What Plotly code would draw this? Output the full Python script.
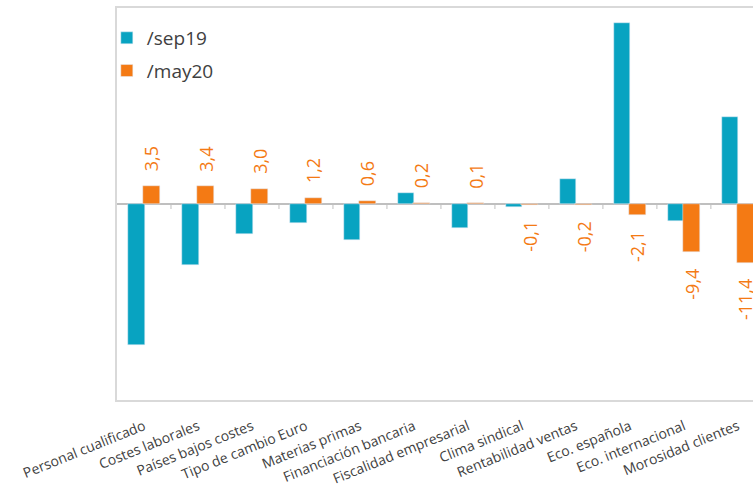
import plotly.graph_objects as go

# Factores y valores por encuesta
categorias = [
    "Personal cualificado", "Costes laborales", "Países bajos costes",
    "Tipo de cambio Euro", "Materias primas", "Financiación bancaria",
    "Fiscalidad empresarial", "Clima sindical", "Rentabilidad ventas",
    "Eco. española", "Eco. internacional", "Morosidad clientes",
]
sep19 = [-27.4, -11.8, -5.8, -3.6, -7.0, 2.1, -4.7, -0.6, 4.8, 35.1, -3.3, 16.8]
may20 = [3.5, 3.4, 3.0, 1.2, 0.6, 0.2, 0.1, -0.1, -0.2, -2.1, -9.4, -11.4]

AZUL = "#08A3C1"
NARANJA = "#F47A14"
GRIS_TEXTO = "#404040"
FUENTE = "Open Sans"

pos = list(range(len(categorias)))

fig = go.Figure()
fig.add_trace(go.Bar(
    x=pos, y=sep19, name="/sep19", marker_color=AZUL,
    width=0.31, offset=-0.30, legendgroup="a",
))
fig.add_trace(go.Bar(
    x=pos, y=may20, name="/may20", marker_color=NARANJA,
    width=0.31, offset=-0.01, legendgroup="b",
))

# Etiquetas de valor de /may20, giradas en vertical
for i, v in zip(pos, may20):
    txt = f"{v:.1f}".replace(".", ",")
    fig.add_annotation(
        x=i + 0.145, y=v, xref="x", yref="y", text=txt, showarrow=False,
        textangle=-90, font=dict(family=FUENTE, size=18, color=NARANJA),
        yanchor="bottom" if v >= 0 else "top",
        yshift=13 if v >= 0 else -14,
    )

# Marcas de división entre categorías sobre la línea de cero
for i in pos[:-1]:
    fig.add_shape(
        type="line", xref="x", yref="y", x0=i + 0.5, x1=i + 0.5,
        ysizemode="pixel", yanchor=0, y0=0, y1=-5,
        line=dict(color="#BFBFBF", width=1),
    )

fig.update_layout(
    width=753, height=484,
    margin=dict(l=117, r=0, t=8, b=84),
    paper_bgcolor="white", plot_bgcolor="white",
    barmode="overlay", bargap=0,
    font=dict(family=FUENTE, color=GRIS_TEXTO),
    legend=dict(
        x=-0.016, y=0.972, xanchor="left", yanchor="top",
        font=dict(family=FUENTE, size=19, color=GRIS_TEXTO),
        bgcolor="rgba(0,0,0,0)", traceorder="grouped", tracegroupgap=5,
        itemwidth=30,
    ),
    showlegend=True,
)
fig.update_xaxes(
    range=[-0.5, 11.28], tickmode="array", tickvals=pos, ticktext=categorias,
    tickangle=-22, tickfont=dict(family=FUENTE, size=14, color=GRIS_TEXTO),
    showgrid=False, zeroline=False, ticks="", automargin=False,
    showline=True, linecolor="#D9D9D9", linewidth=2, mirror=True,
    ticklabelstandoff=11,
)
fig.update_yaxes(
    range=[-38, 38], showticklabels=False, ticks="", showgrid=False,
    automargin=False,
    zeroline=True, zerolinecolor="#BFBFBF", zerolinewidth=1.5,
    showline=True, linecolor="#D9D9D9", linewidth=2, mirror=False,
)

fig.write_html("out.html")
